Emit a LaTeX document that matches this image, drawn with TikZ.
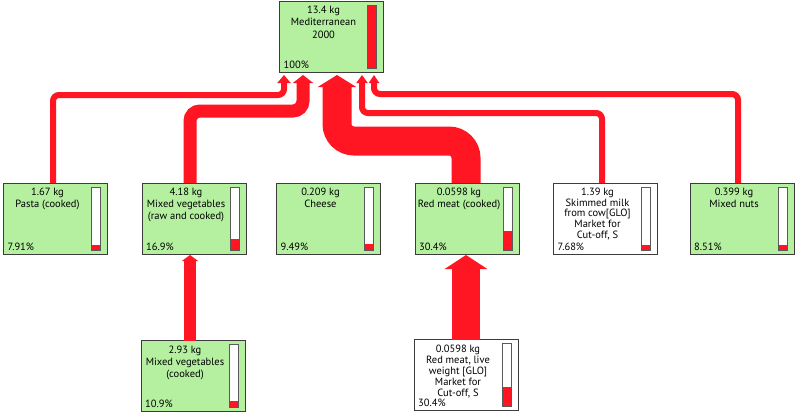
\documentclass[tikz,border=0pt]{standalone}
\usepackage{fontspec}
\setmainfont{PT Sans}
\usetikzlibrary{arrows.meta,calc}
\definecolor{boxgreen}{RGB}{180,240,160}
\definecolor{flowred}{RGB}{255,22,34}
\definecolor{boxline}{RGB}{60,60,60}
\definecolor{barline}{RGB}{90,90,90}
\tikzset{
  box/.style={draw=boxline, line width=1pt, minimum width=104pt, minimum height=71pt, inner sep=0pt, outer sep=0pt},
  greenbox/.style={box, fill=boxgreen},
  whitebox/.style={box, fill=white},
  boxtext/.style={align=center, font=\fontsize{10.5}{#1}\selectfont, inner sep=0pt, anchor=north},
  pcttext/.style={font=\fontsize{10.5}{12}\selectfont, inner sep=0pt, anchor=base west},
  flow/.style={draw=flowred, line cap=butt, line join=miter},
}
\newcommand{\fracbar}[2]{%
  \filldraw[fill=white, draw=barline, line width=1pt] ($(#1.north east)+(-16,4)$) rectangle ($(#1.south east)+(-7,-4)$);
  \fill[flowred] ($(#1.south east)+(-16,-4)$) rectangle ($(#1.south east)+(-7,{-4-63*#2})$);
  \draw[barline, line width=1pt] ($(#1.north east)+(-16,4)$) rectangle ($(#1.south east)+(-7,-4)$);
}
\newcommand{\procnode}[8]{%
  \node[#4] (#1) at (#2,#3) {};
  \node[boxtext=#8] (#1-txt) at ($(#1.north)+(-8,5)$) {#5};
  \node[pcttext] (#1-pct) at ($(#1.south west)+(4,-4)$) {#6};
  \fracbar{#1}{#7}
}
\begin{document}
\begin{tikzpicture}[x=1pt,y=-1pt]
\useasboundingbox[fill=white] (0,0) rectangle (796,418);

\procnode{top}{331.5}{36.5}{greenbox}{13.4 kg\\Mediterranean\\2000}{100\%}{1}{12.2}
\procnode{pasta}{55.5}{218.5}{greenbox}{1.67 kg\\Pasta (cooked)}{7.91\%}{0.0791}{12}
\procnode{veg}{194}{218.5}{greenbox}{4.18 kg\\Mixed vegetables\\(raw and cooked)}{16.9\%}{0.169}{12}
\procnode{cheese}{328.5}{218.5}{greenbox}{0.209 kg\\Cheese}{9.49\%}{0.0949}{12}
\procnode{meat}{467}{218.5}{greenbox}{0.0598 kg\\Red meat (cooked)}{30.4\%}{0.304}{12}
\procnode{milk}{605.5}{218.5}{whitebox}{1.39 kg\\Skimmed milk\\from cow[GLO]\\Market for\\Cut-off, S}{7.68\%}{0.0768}{10.6}
\procnode{nuts}{742}{218.5}{greenbox}{0.399 kg\\Mixed nuts}{8.51\%}{0.0851}{12}
\procnode{vegc}{193}{376}{greenbox}{2.93 kg\\Mixed vegetables\\(cooked)}{10.9\%}{0.109}{12}
\procnode{live}{466}{375}{whitebox}{0.0598 kg\\Red meat, live\\weight [GLO]\\Market for\\Cut-off, S}{30.4\%}{0.304}{11.2}

% flows into the top node
\draw[flow, line width=6pt, rounded corners=6pt, -{Triangle[width=13pt,length=8pt]}]
  ([xshift=-2.5pt]pasta.north) |- (284,95) -- ([xshift=-47.5pt,yshift=-3pt]top.south);
\draw[flow, line width=13pt, rounded corners=10pt, -{Triangle[width=20pt,length=8pt]}]
  ([xshift=-4pt]veg.north) |- (303,111) -- ([xshift=-28.5pt,yshift=-3pt]top.south);
\draw[flow, line width=29pt, rounded corners=17pt, -{Triangle[width=38pt,length=12pt]}]
  ([xshift=-1pt]meat.north) |- (337,141) -- ([xshift=5.5pt,yshift=-3pt]top.south);
\draw[flow, line width=6pt, rounded corners=6pt, -{Triangle[width=11pt,length=8pt]}]
  ([xshift=-3.5pt]milk.north) |- (362,113) -- ([xshift=30.5pt,yshift=-3pt]top.south);
\draw[flow, line width=6pt, rounded corners=6pt, -{Triangle[width=10pt,length=8pt]}]
  ([xshift=-4pt]nuts.north) |- (374,94) -- ([xshift=42.5pt,yshift=-3pt]top.south);

% flows into the middle row
\draw[flow, line width=12pt, -{Triangle[width=16pt,length=6pt]}]
  ([xshift=-3pt]vegc.north) -- ([xshift=-4pt,yshift=-1pt]veg.south);
\draw[flow, line width=28pt, -{Triangle[width=42pt,length=14pt]}]
  (live.north) -- ([xshift=-1pt,yshift=-1pt]meat.south);
\end{tikzpicture}
\end{document}
